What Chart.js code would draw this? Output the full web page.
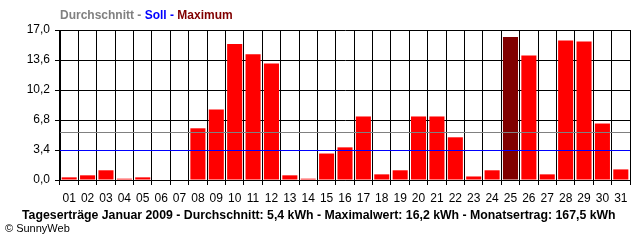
<!DOCTYPE html>
<html>
<head>
<meta charset="utf-8">
<script src="https://cdn.jsdelivr.net/npm/chart.js@4"></script>
<style>
  body { margin: 0; background: #fff; }
  #wrap { position: relative; width: 640px; height: 240px; overflow: hidden; }
  #chart { position: absolute; left: 0; top: 0; }
  .legend { position: absolute; left: 60px; top: 8px; font: bold 12px "Liberation Sans", Arial, sans-serif; }
  .footer { position: absolute; left: 22px; top: 208px; font: bold 12.3px "Liberation Sans", Arial, sans-serif; color: #000; white-space: nowrap; }
  .copy { position: absolute; left: 5px; top: 222px; font: 11px "Liberation Sans", Arial, sans-serif; color: #000; }
</style>
</head>
<body>
<div id="wrap">
  <canvas id="chart" width="640" height="240"></canvas>
  <div class="legend"><span style="color:#808080">Durchschnitt - </span><span style="color:#0000ff">Soll - </span><span style="color:#800000">Maximum</span></div>
  <div class="footer">Tageserträge Januar 2009 - Durchschnitt: 5,4 kWh - Maximalwert: 16,2 kWh - Monatsertrag: 167,5 kWh</div>
  <div class="copy">© SunnyWeb</div>
</div>
<script>
const days = ['01','02','03','04','05','06','07','08','09','10','11','12','13','14','15','16',
              '17','18','19','20','21','22','23','24','25','26','27','28','29','30','31'];
const yields = [0.3, 0.53, 1.1, 0.15, 0.3, 0, 0, 5.86, 8.0, 15.4, 14.25, 13.2, 0.53, 0.15, 3.0, 3.7,
                7.2, 0.64, 1.1, 7.2, 7.2, 4.84, 0.4, 1.1, 16.2, 14.1, 0.64, 15.8, 15.7, 6.4, 1.2];
const average = 5.4;
const target = 3.4;
const yTicks = [0, 3.4, 6.8, 10.2, 13.6, 17.0];

const maxVal = Math.max(...yields);
const barColors = yields.map(v => v === maxVal ? '#800000' : '#ff0000');

// horizontal lines for Durchschnitt and Soll, drawn on top of the bars
const refLines = {
    id: 'refLines',
    afterDatasetsDraw(chart) {
        const ctx = chart.ctx;
        const area = chart.chartArea;
        const y = chart.scales.y;
        [[average, '#808080'], [target, '#0000ff']].forEach(function(l) {
            const py = Math.round(y.getPixelForValue(l[0])) + 0.5;
            ctx.save();
            ctx.strokeStyle = l[1];
            ctx.lineWidth = 1;
            ctx.beginPath();
            ctx.moveTo(area.left, py);
            ctx.lineTo(area.right, py);
            ctx.stroke();
            ctx.restore();
        });
    }
};

new Chart(document.getElementById('chart'), {
    type: 'bar',
    data: {
        labels: days,
        datasets: [{
            data: yields,
            backgroundColor: barColors,
            borderWidth: 0,
            barPercentage: 0.82,
            categoryPercentage: 1.0
        }]
    },
    options: {
        responsive: false,
        animation: false,
        events: [],
        layout: { padding: { top: 30, right: 10, left: 0, bottom: 0 } },
        plugins: {
            legend: { display: false },
            tooltip: { enabled: false }
        },
        scales: {
            x: {
                grid: {
                    color: '#000',
                    lineWidth: 1,
                    offset: true,
                    drawTicks: true,
                    tickLength: 5,
                    tickColor: '#000'
                },
                border: { display: true, color: '#000', width: 1 },
                ticks: {
                    color: '#000',
                    padding: 6,
                    maxRotation: 0,
                    autoSkip: false,
                    font: { family: 'Liberation Sans', size: 12 }
                },
                afterFit: function(scale) { scale.height = 60; }
            },
            y: {
                min: 0,
                max: 17,
                afterBuildTicks: function(scale) {
                    scale.ticks = yTicks.map(v => ({ value: v }));
                },
                grid: {
                    color: '#000',
                    lineWidth: 1,
                    drawTicks: true,
                    tickLength: 5,
                    tickColor: '#000'
                },
                border: { display: true, color: '#000', width: 1 },
                ticks: {
                    color: '#000',
                    padding: 5,
                    font: { family: 'Liberation Sans', size: 12 },
                    callback: function(value) { return value.toFixed(1).replace('.', ','); }
                },
                afterFit: function(scale) { scale.width = 60; }
            }
        }
    },
    plugins: [refLines]
});
</script>
</body>
</html>
